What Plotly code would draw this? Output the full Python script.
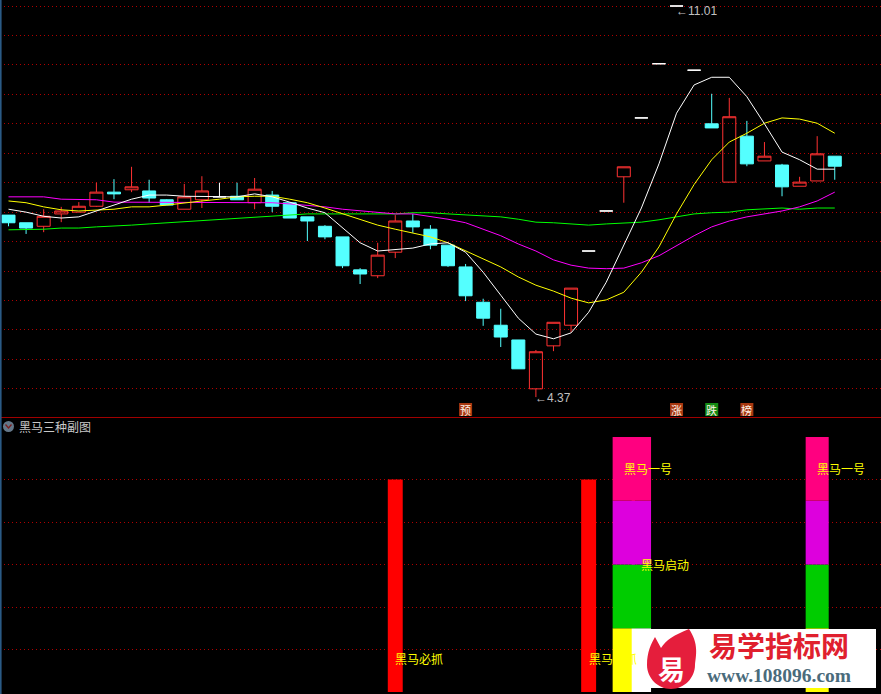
import plotly.graph_objects as go

W, H = 881, 694

# ---------------- data ----------------
idx = list(range(48))
opens  = [7.46, 7.33, 7.27, 7.48, 7.51, 7.61, 7.85, 7.89, 7.87, 7.72,
          7.56, 7.72, 7.77, 7.78, 7.67, 7.80, 7.67, 7.43, 7.27, 7.09,
          6.53, 6.43, 6.83, 7.36, 7.22, 6.95, 6.58, 5.98, 5.59, 5.34,
          4.51, 5.24, 5.59, 6.85, 7.53, 8.11, 9.11, 10.03, 11.01, 9.92,
          9.01, 8.02, 8.80, 8.38, 8.31, 7.95, 8.04, 8.46]
highs  = [7.46, 7.33, 7.56, 7.60, 7.68, 8.01, 8.07, 8.28, 8.06, 7.73,
          7.99, 8.12, 8.01, 8.01, 8.09, 7.87, 7.67, 7.43, 7.29, 7.09,
          6.56, 6.99, 7.46, 7.48, 7.29, 6.95, 6.63, 6.04, 5.87, 5.34,
          5.17, 5.64, 6.22, 6.85, 7.53, 8.28, 9.11, 10.03, 11.01, 9.92,
          9.52, 9.45, 9.06, 8.70, 8.33, 8.11, 8.80, 8.46]
lows   = [7.27, 7.14, 7.17, 7.34, 7.51, 7.60, 7.73, 7.85, 7.67, 7.63,
          7.56, 7.58, 7.77, 7.72, 7.56, 7.51, 7.41, 7.02, 7.05, 6.56,
          6.29, 6.39, 6.73, 7.16, 6.88, 6.58, 6.00, 5.58, 5.22, 4.85,
          4.37, 5.15, 5.47, 6.85, 7.53, 7.67, 9.11, 10.03, 11.01, 9.92,
          8.94, 8.02, 8.29, 8.38, 7.78, 7.95, 8.04, 8.06]
closes = [7.33, 7.24, 7.44, 7.53, 7.61, 7.85, 7.82, 7.94, 7.75, 7.63,
          7.77, 7.87, 7.77, 7.72, 7.90, 7.61, 7.41, 7.36, 7.09, 6.60,
          6.46, 6.78, 7.36, 7.26, 6.95, 6.60, 6.09, 5.71, 5.39, 4.85,
          5.14, 5.64, 6.22, 6.85, 7.53, 8.28, 9.11, 10.03, 11.01, 9.92,
          8.94, 9.13, 8.33, 8.46, 7.94, 8.02, 8.50, 8.29]

ma5  = [7.56, 7.51, 7.44, 7.41, 7.43, 7.53, 7.63, 7.73, 7.80, 7.80,
        7.78, 7.78, 7.77, 7.77, 7.82, 7.77, 7.68, 7.58, 7.50, 7.24,
        6.99, 6.85, 6.87, 6.90, 6.97, 6.99, 6.83, 6.49, 6.10, 5.71,
        5.44, 5.36, 5.46, 5.81, 6.32, 6.95, 7.58, 8.33, 9.19, 9.67,
        9.80, 9.80, 9.47, 9.01, 8.53, 8.40, 8.24, 8.24]
ma10 = [7.70, 7.67, 7.60, 7.55, 7.53, 7.55, 7.56, 7.60, 7.60, 7.63,
        7.67, 7.70, 7.73, 7.77, 7.78, 7.78, 7.73, 7.67, 7.58, 7.48,
        7.39, 7.29, 7.22, 7.16, 7.09, 6.99, 6.85, 6.71, 6.58, 6.41,
        6.27, 6.17, 6.05, 5.97, 6.02, 6.15, 6.49, 6.92, 7.48, 7.98,
        8.40, 8.70, 8.85, 9.02, 9.11, 9.09, 9.02, 8.85]
ma20 = [7.77, 7.77, 7.77, 7.73, 7.73, 7.72, 7.68, 7.68, 7.68, 7.67,
        7.68, 7.68, 7.68, 7.67, 7.67, 7.67, 7.65, 7.63, 7.60, 7.56,
        7.53, 7.50, 7.48, 7.48, 7.44, 7.39, 7.33, 7.22, 7.11, 6.97,
        6.85, 6.70, 6.61, 6.56, 6.55, 6.56, 6.65, 6.77, 6.94, 7.11,
        7.26, 7.36, 7.43, 7.48, 7.53, 7.60, 7.70, 7.85]
ma60 = [7.21, 7.21, 7.22, 7.24, 7.24, 7.26, 7.27, 7.29, 7.31, 7.33,
        7.34, 7.36, 7.38, 7.41, 7.43, 7.44, 7.46, 7.48, 7.48, 7.48,
        7.48, 7.48, 7.48, 7.50, 7.50, 7.48, 7.46, 7.44, 7.43, 7.39,
        7.34, 7.33, 7.31, 7.29, 7.31, 7.33, 7.34, 7.38, 7.43, 7.48,
        7.50, 7.51, 7.55, 7.56, 7.58, 7.56, 7.58, 7.58]

# marker letters under the price panel
info_idx = [26, 38, 40, 42]
info_txt = ["预", "涨", "跌", "榜"]

# lower panel signals
bizhua_idx = [22, 33]          # 黑马必抓
bizhua_val = 5
yihao_idx = [35, 46]           # 黑马一号
qidong_idx = [36]              # 黑马启动
stack_idx = [35, 36, 46]
stack_levels = [0, 1.5, 3, 4.5, 6]

# ---------------- helpers ----------------
def px(x):
    return x / W

def py(y):
    return 1 - y / H

CYAN = "#54FFFF"
RED = "#FF3232"
FONT_CJK = "Noto Sans CJK SC"

fig = go.Figure()

# ---------------- candles ----------------
def sub(mask):
    sel = [i for i in idx if mask(i)]
    return (sel, [opens[i] for i in sel], [highs[i] for i in sel],
            [lows[i] for i in sel], [closes[i] for i in sel])

for mask, inc_line, inc_fill, dec_line, dec_fill in [
    (lambda i: closes[i] > opens[i], RED, "rgba(0,0,0,0)", RED, "rgba(0,0,0,0)"),
    (lambda i: closes[i] < opens[i], CYAN, CYAN, CYAN, CYAN),
    (lambda i: closes[i] == opens[i], "#FFFFFF", "#FFFFFF", "#FFFFFF", "#FFFFFF"),
]:
    x, o, h, l, c = sub(mask)
    fig.add_trace(go.Candlestick(
        x=x, open=o, high=h, low=l, close=c,
        increasing=dict(line=dict(color=inc_line, width=1), fillcolor=inc_fill),
        decreasing=dict(line=dict(color=dec_line, width=1), fillcolor=dec_fill),
        whiskerwidth=0, hoverinfo="skip", showlegend=False,
        xaxis="x", yaxis="y"))

# ---------------- moving averages ----------------
for vals, col in [(ma60, "#00FF00"), (ma20, "#FF00FF"), (ma10, "#FFFF00"), (ma5, "#FFFFFF")]:
    fig.add_trace(go.Scatter(x=idx, y=vals, mode="lines",
                             line=dict(color=col, width=1),
                             hoverinfo="skip", showlegend=False,
                             xaxis="x", yaxis="y"))

# ---------------- lower panel bars ----------------
fig.add_trace(go.Bar(x=bizhua_idx, y=[bizhua_val] * len(bizhua_idx),
                     base=[0] * len(bizhua_idx), width=0.85,
                     marker=dict(color="#FF0000", line=dict(width=0)),
                     hoverinfo="skip", showlegend=False,
                     xaxis="x2", yaxis="y2"))

stack_widths = {35: 1.27, 36: 1.10, 46: 1.31}
seg_colors = [["#FFFF00", "#FFFFFF", "#FFFF00"],
              ["#00CC00"] * 3, ["#DD00DD"] * 3, ["#FF0080"] * 3]
for k in range(4):
    lo, hi = stack_levels[k], stack_levels[k + 1]
    fig.add_trace(go.Bar(x=stack_idx, y=[hi - lo] * len(stack_idx),
                         base=[lo] * len(stack_idx),
                         width=[stack_widths[i] for i in stack_idx],
                         marker=dict(color=seg_colors[k], line=dict(width=0)),
                         hoverinfo="skip", showlegend=False,
                         xaxis="x2", yaxis="y2"))

annotations = []
for i in bizhua_idx:
    annotations.append(dict(x=i, y=0.78, xref="x2", yref="y2", text="黑马必抓",
                            xanchor="left", yanchor="middle", xshift=-2, showarrow=False,
                            font=dict(family=FONT_CJK, size=12, color="#FFFF00")))
for i in yihao_idx:
    annotations.append(dict(x=i, y=5.25, xref="x2", yref="y2", text="黑马一号",
                            xanchor="left", yanchor="middle", xshift=-2, showarrow=False,
                            font=dict(family=FONT_CJK, size=12, color="#FFFF00")))
for i in qidong_idx:
    annotations.append(dict(x=i, y=3.0, xref="x2", yref="y2", text="黑马启动",
                            xanchor="left", yanchor="middle", xshift=-2, showarrow=False,
                            font=dict(family=FONT_CJK, size=12, color="#FFFF00")))

# high / low labels
hi_i = max(idx, key=lambda i: highs[i])
lo_i = min(idx, key=lambda i: lows[i])
annotations.append(dict(x=hi_i, y=highs[hi_i], xref="x", yref="y",
                        text="←%.2f" % highs[hi_i], xanchor="left", yanchor="middle",
                        xshift=-3, yshift=-5, showarrow=False,
                        font=dict(family="Liberation Sans", size=12, color="#C0C0C0")))
annotations.append(dict(x=lo_i, y=lows[lo_i], xref="x", yref="y",
                        text="←%.2f" % lows[lo_i], xanchor="left", yanchor="middle",
                        xshift=-3, yshift=-1, showarrow=False,
                        font=dict(family="Liberation Sans", size=12, color="#C0C0C0")))

shapes = []
# info markers
for i, t in zip(info_idx, info_txt):
    col = "#138A13" if t == "跌" else "#A83810"
    shapes.append(dict(type="rect", xref="x", yref="paper",
                       x0=i - 0.37, x1=i + 0.37, y0=py(416), y1=py(403),
                       fillcolor=col, line=dict(width=0), layer="above"))
    annotations.append(dict(x=i, y=py(409.5), xref="x", yref="paper", text=t,
                            xanchor="center", yanchor="middle", showarrow=False,
                            font=dict(family=FONT_CJK, size=11, color="#FFF2E6")))

# panel separator and left border
shapes.append(dict(type="line", xref="paper", yref="paper", x0=0, x1=1,
                   y0=py(417.5), y1=py(417.5), line=dict(color="#A00000", width=1)))
shapes.append(dict(type="line", xref="paper", yref="paper", x0=px(0.8), x1=px(0.8),
                   y0=0, y1=1, line=dict(color="#2A5A85", width=1.6)))

# lower panel title and icon
shapes.append(dict(type="circle", xref="paper", yref="paper",
                   x0=px(3), x1=px(14), y0=py(432), y1=py(421),
                   fillcolor="#647789", line=dict(width=0)))
shapes.append(dict(type="path", xref="paper", yref="paper",
                   path="M %f,%f L %f,%f L %f,%f" % (px(5.5), py(424.5), px(8.5), py(428),
                                                      px(11.5), py(424.5)),
                   line=dict(color="#7A1E1E", width=1.3)))
annotations.append(dict(x=px(17), y=py(426), xref="paper", yref="paper",
                        text="黑马三种副图", xanchor="left", yanchor="middle",
                        showarrow=False,
                        font=dict(family=FONT_CJK, size=12, color="#C8C8C8")))

# watermark
shapes.append(dict(type="rect", xref="paper", yref="paper", x0=px(645), x1=px(876),
                   y0=py(688), y1=py(629), fillcolor="#FFFFFF", line=dict(width=0),
                   layer="above"))
flame = [("M", 647, 665), ("C", 647, 652, 651, 644, 655, 637), ("L", 661, 648),
         ("C", 666, 640, 674, 635, 689, 629), ("C", 699, 644, 696, 655, 695, 665),
         ("C", 695, 678, 684, 689, 671, 689), ("C", 658, 689, 647, 678, 647, 665)]
path = ""
for seg in flame:
    cmd, pts = seg[0], seg[1:]
    coords = " ".join("%f,%f" % (px(pts[j]), py(pts[j + 1])) for j in range(0, len(pts), 2))
    path += "%s %s " % (cmd, coords)
path += "Z"
shapes.append(dict(type="path", xref="paper", yref="paper", path=path,
                   fillcolor="#E51E3C", line=dict(width=0), layer="above"))
annotations.append(dict(x=px(671), y=py(668), xref="paper", yref="paper", text="<b>易</b>",
                        showarrow=False, xanchor="center", yanchor="middle",
                        font=dict(family=FONT_CJK, size=27, color="#FFFFFF")))
annotations.append(dict(x=px(779), y=py(645), xref="paper", yref="paper",
                        text="<b>易学指标网</b>", showarrow=False,
                        xanchor="center", yanchor="middle",
                        font=dict(family=FONT_CJK, size=28, color="#E0202E")))
annotations.append(dict(x=px(779), y=py(675), xref="paper", yref="paper",
                        text="<b>www.108096.com</b>", showarrow=False,
                        xanchor="center", yanchor="middle",
                        font=dict(family="Liberation Serif", size=19.5, color="#4A6B7B")))

# ---------------- layout ----------------
xr = [-0.4835, 49.63]
top_grid = [11.01 - 0.5 * k for k in range(14)]
fig.update_layout(
    width=W, height=H, autosize=False,
    margin=dict(l=0, r=0, t=0, b=0, pad=0),
    paper_bgcolor="#000000", plot_bgcolor="#000000",
    font=dict(family=FONT_CJK, color="#C8C8C8"),
    showlegend=False, barmode="overlay", boxgap=0.26, boxgroupgap=0,
    hovermode=False,
    xaxis=dict(domain=[0, 1], range=xr, showgrid=False, zeroline=False,
               showticklabels=False, ticks="", showline=False, anchor="y",
               rangeslider=dict(visible=False), fixedrange=True),
    yaxis=dict(domain=[1 - 416 / H, 1], range=[4.049, 11.112], tickvals=top_grid,
               showgrid=True, gridcolor="#B00000", gridwidth=1, griddash="1px,3px",
               zeroline=False, showticklabels=False, ticks="", showline=False,
               anchor="x", fixedrange=True),
    xaxis2=dict(domain=[0, 1], range=xr, showgrid=False, zeroline=False,
                showticklabels=False, ticks="", showline=False, anchor="y2",
                fixedrange=True),
    yaxis2=dict(domain=[0, 276 / H], range=[-0.047, 6.447], tickvals=[1, 2, 3, 4, 5],
                showgrid=True, gridcolor="#B00000", gridwidth=1, griddash="1px,3px",
                zeroline=False, showticklabels=False, ticks="", showline=False,
                anchor="x2", fixedrange=True),
    shapes=shapes, annotations=annotations,
)

fig.write_html("out.html", config={"displayModeBar": False},
               post_script="document.body.style.margin='0';document.body.style.padding='0';"
                           "document.body.style.overflow='hidden';")
